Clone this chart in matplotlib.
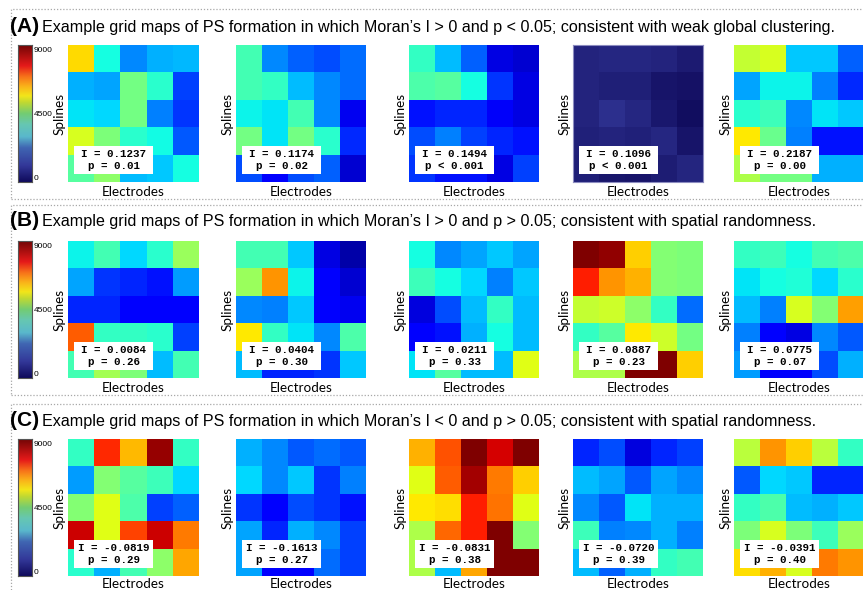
import matplotlib
matplotlib.use('Agg')
import matplotlib.pyplot as plt
import numpy as np
from matplotlib.colors import LinearSegmentedColormap
from matplotlib.patches import Rectangle

W, H = 863, 590

titles = [
    'Example grid maps of PS formation in which Moran\u2019s I > 0 and p < 0.05; consistent with weak global clustering.',
    'Example grid maps of PS formation in which Moran\u2019s I > 0 and p > 0.05; consistent with spatial randomness.',
    'Example grid maps of PS formation in which Moran\u2019s I < 0 and p > 0.05; consistent with spatial randomness.',
]
panel_tags = ['(A)', '(B)', '(C)']

# PS counts per cell (splines x electrodes)
a1 = [[6100, 3400, 2350, 2700, 2750],
      [2700, 2600, 4400, 3600, 1700],
      [3150, 3050, 4400, 2250, 1600],
      [5500, 4500, 3600, 3350, 1900],
      [4100, 4700, 2800, 2900, 3400]]
a2 = [[3900, 2350, 2000, 1800, 2100],
      [3900, 3700, 2800, 2350, 2100],
      [3300, 3150, 3900, 2350, 900],
      [4400, 3150, 4400, 3600, 1500],
      [1800, 1150, 1800, 2000, 650]]
a3 = [[3700, 2800, 2000, 800, 650],
      [4000, 4100, 3400, 1600, 800],
      [1300, 1450, 1450, 950, 800],
      [1800, 2250, 1700, 1450, 1300],
      [1600, 1300, 1300, 800, 1700]]
a4 = [[600, 700, 700, 600, 400],
      [600, 500, 500, 250, 200],
      [600, 900, 700, 350, 100],
      [550, 600, 550, 700, 250],
      [500, 300, 250, 450, 650]]
a5 = [[5300, 5500, 2900, 2900, 2000],
      [2600, 3300, 3300, 2250, 1500],
      [3600, 3800, 2350, 3150, 2900],
      [5950, 4300, 2250, 1300, 1300],
      [5050, 4400, 4400, 2700, 2700]]
b1 = [[3300, 3900, 3050, 3600, 4850],
      [2600, 1600, 1450, 1300, 2500],
      [1450, 1450, 1150, 1150, 1150],
      [7300, 3700, 3700, 3600, 1700],
      [3900, 4950, 4500, 2800, 3900]]
b2 = [[3900, 3900, 2900, 800, 350],
      [4850, 6750, 3300, 1000, 650],
      [2350, 2250, 2900, 1100, 900],
      [5950, 3700, 3150, 2350, 4000],
      [2800, 1450, 1450, 1600, 2900]]
b3 = [[3400, 2350, 2600, 2900, 2600],
      [3800, 3400, 3050, 2250, 2900],
      [750, 1800, 2800, 3700, 2800],
      [1100, 1300, 2700, 3400, 2800],
      [3150, 4100, 2800, 2800, 5600]]
b4 = [[9000, 8850, 6200, 4600, 4500],
      [7900, 6750, 6500, 4600, 4500],
      [5300, 5400, 4700, 3700, 2100],
      [3700, 4100, 5950, 5400, 4400],
      [5050, 5050, 9000, 9000, 6200]]
b5 = [[3700, 3800, 3400, 3900, 4000],
      [3150, 3400, 3500, 3050, 3600],
      [2800, 2250, 5500, 4600, 6650],
      [2250, 1100, 800, 2350, 1900],
      [2500, 1000, 1000, 1800, 2700]]
c1 = [[3700, 7800, 6400, 8800, 3700],
      [2500, 4600, 4100, 3800, 3050],
      [4600, 5600, 4000, 1700, 2000],
      [8400, 5600, 7550, 8400, 7000],
      [3600, 2700, 3900, 4700, 6600]]
c2 = [[2700, 2350, 1900, 2100, 1900],
      [3050, 2350, 2900, 1600, 2250],
      [1600, 1150, 1800, 1600, 1300],
      [2600, 1450, 2700, 2350, 1700],
      [2600, 1150, 1150, 2100, 1700]]
c3 = [[6500, 7400, 9000, 8300, 9000],
      [5600, 7300, 8700, 7000, 6200],
      [5950, 6050, 7900, 7100, 5600],
      [5050, 7200, 7900, 9000, 4600],
      [5050, 2800, 6600, 9000, 9000]]
c4 = [[1450, 1800, 750, 1450, 1700],
      [2800, 2600, 1900, 2600, 2350],
      [2350, 1900, 3150, 2700, 2700],
      [3800, 2250, 2350, 2700, 2250],
      [2800, 2000, 2700, 3700, 3900]]
c5 = [[5200, 6750, 6200, 5200, 3700],
      [1900, 3050, 2900, 1450, 1450],
      [3700, 4000, 2800, 2700, 2900],
      [4500, 5500, 4500, 3800, 4850],
      [6050, 6500, 5500, 7000, 6750]]

grids = [[a1, a2, a3, a4, a5], [b1, b2, b3, b4, b5], [c1, c2, c3, c4, c5]]

moran_i = [['0.1237', '0.1174', '0.1494', '0.1096', '0.2187'],
           ['0.0084', '0.0404', '0.0211', '0.0887', '0.0775'],
           ['-0.0819', '-0.1613', '-0.0831', '-0.0720', '-0.0391']]
p_text = [['= 0.01', '= 0.02', '< 0.001', '< 0.001', '= 0.00'],
          ['= 0.26', '= 0.30', '= 0.33', '= 0.23', '= 0.07'],
          ['= 0.29', '= 0.27', '= 0.38', '= 0.39', '= 0.40']]

cbar_ticks = [0, 4500, 9000]

# the colour bar in the figure is a washed-out jet
bar_cmap = LinearSegmentedColormap.from_list('bar', [
    (0.00, (0.06, 0.04, 0.36)),
    (0.12, (0.20, 0.22, 0.60)),
    (0.25, (0.25, 0.40, 0.70)),
    (0.33, (0.35, 0.72, 0.80)),
    (0.42, (0.40, 0.78, 0.70)),
    (0.50, (0.45, 0.80, 0.45)),
    (0.58, (0.75, 0.85, 0.20)),
    (0.63, (0.95, 0.90, 0.10)),
    (0.70, (0.98, 0.70, 0.10)),
    (0.77, (0.97, 0.45, 0.10)),
    (0.85, (0.90, 0.10, 0.10)),
    (1.00, (0.45, 0.02, 0.02)),
])


def px(x, y, w, h):
    return [x / W, 1 - (y + h) / H, w / W, h / H]


fig = plt.figure(figsize=(W / 100, H / 100), dpi=100)

map_x = [68, 236, 409, 573, 734]
row_top = [45, 241, 439]
frames = [(11, 9, 190), (11, 205, 190), (11, 404, 190)]
title_base = [32, 226, 426]
xlabel_pad = [3, 3, 1.5]

for r in range(3):
    fx, fy, fh = frames[r]
    fig.add_artist(Rectangle((fx / W, 1 - (fy + fh) / H), (W + 10 - fx) / W, fh / H,
                             transform=fig.transFigure, fill=False, ec='#a8a8a8',
                             lw=0.9, ls=(0, (1, 1.5))))
    yb = 1 - title_base[r] / H
    fig.text(10 / W, yb, panel_tags[r], fontsize=15, fontweight='bold',
             family='Liberation Sans', va='baseline')
    fig.text(42 / W, yb, titles[r], fontsize=11.6, family='Liberation Sans',
             va='baseline')

    # colour bar
    cax = fig.add_axes(px(18, row_top[r], 14, 137))
    grad = np.linspace(0, 9000, 256).reshape(-1, 1)
    cax.imshow(grad, cmap=bar_cmap, vmin=0, vmax=9000, aspect='auto',
               origin='lower', extent=[0, 1, -280, 9280])
    cax.set_xticks([])
    cax.yaxis.tick_right()
    cax.set_yticks(cbar_ticks)
    cax.set_yticklabels([str(t) for t in cbar_ticks], fontsize=6,
                        family='Liberation Sans')
    cax.tick_params(axis='y', length=0, pad=1)
    for s in cax.spines.values():
        s.set_color('#555555')
        s.set_linewidth(0.8)

    for c in range(5):
        ax = fig.add_axes(px(map_x[c], row_top[r], 130, 137))
        cmap = 'jet'
        if r == 0 and c == 3:
            cmap = bar_cmap
        ax.imshow(np.array(grids[r][c]), cmap=cmap, vmin=0, vmax=9000,
                  aspect='auto', interpolation='nearest')
        ax.set_xticks([])
        ax.set_yticks([])
        for s in ax.spines.values():
            s.set_visible(r == 0 and c == 3)
            s.set_color('#8c8cc0')
        ax.set_xlabel('Electrodes', fontsize=9.7, family='Lato',
                      labelpad=xlabel_pad[r])
        ax.set_ylabel('Splines', fontsize=9.7, family='Lato', labelpad=2)
        ax.add_patch(Rectangle((0.046, 0.058), 0.608, 0.204, transform=ax.transAxes,
                               fc='white', ec='none', zorder=3))
        ax.text(0.35, 0.16, 'I = %s\np %s' % (moran_i[r][c], p_text[r][c]),
                transform=ax.transAxes, ha='center', va='center', fontsize=7.8,
                family='Liberation Mono', fontweight='bold', linespacing=1.35,
                zorder=4)

fig.savefig('out.png', dpi=100)
